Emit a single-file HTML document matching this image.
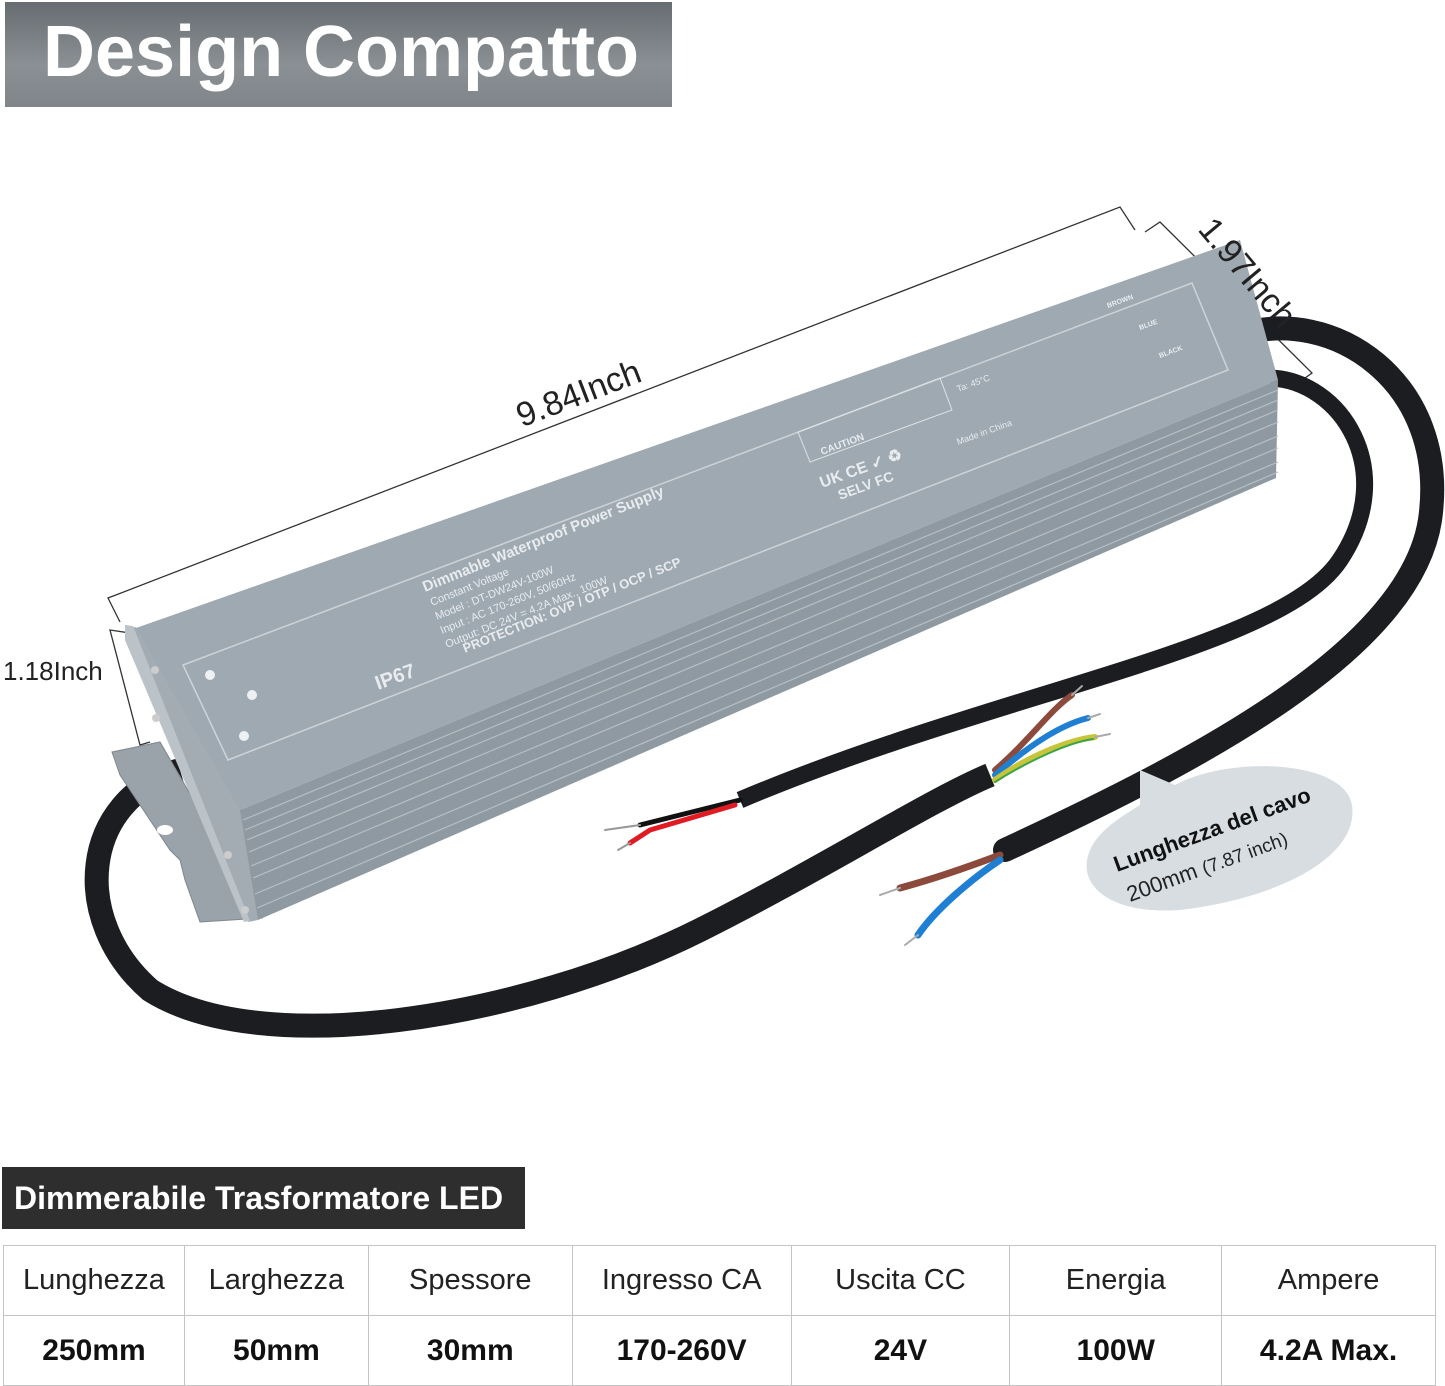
<!DOCTYPE html>
<html><head><meta charset="utf-8"><style>
html,body{margin:0;padding:0;background:#fff;width:1445px;height:1385px;overflow:hidden;font-family:"Liberation Sans",Arial,sans-serif;}
.title{position:absolute;left:5px;top:2px;width:667px;height:105px;background:linear-gradient(#676c71,#8b9095 60%,#80858a);color:#fff;font-weight:bold;font-size:72px;line-height:100px;box-sizing:border-box;padding-left:38px;white-space:nowrap}
.dark{position:absolute;left:2px;top:1167px;width:523px;height:62px;background:#2e2e2e;color:#fff;font-weight:bold;font-size:32px;line-height:62px;padding-left:12px;box-sizing:border-box;white-space:nowrap}
table{position:absolute;left:3px;top:1245px;width:1433px;border-collapse:collapse}
td{border:1px solid #c4c4c4;text-align:center;font-size:29px;color:#222;height:69px;padding:0}
tr.v td{font-weight:bold;color:#111;font-size:30px}
svg{position:absolute;left:0;top:0}
</style></head><body>
<div class="title">Design Compatto</div>
<svg width="1445" height="1160" viewBox="0 0 1445 1160" xmlns="http://www.w3.org/2000/svg" font-family="Liberation Sans, Arial, sans-serif">
<!-- dimension lines -->
<g stroke="#333" stroke-width="1.3" fill="none">
<polyline points="120,622 108,598 1120,207 1135,230"/>
<polyline points="1145,232 1160,222 1312,373 1298,383"/>
<polyline points="130,633 110,630 140,745 150,742"/>
</g>
<text x="578" y="405" font-size="34" fill="#222" text-anchor="middle" transform="rotate(-21 578 392)">9.84Inch</text>
<text x="3" y="680" font-size="26" fill="#222">1.18Inch</text>

<!-- outer cable right side -->
<path d="M1240,335 C1330,305 1450,380 1430,520 C1410,650 1200,760 1005,850" stroke="#1b1d20" stroke-width="24" fill="none" stroke-linecap="round"/>
<!-- inner output cable -->
<path d="M1270,378 C1340,380 1400,470 1340,560 C1280,650 1000,690 740,800" stroke="#1b1d20" stroke-width="17" fill="none"/>
<!-- main loop cable -->
<path d="M180,770 C80,800 70,920 150,990 C260,1060 520,1020 700,930 C820,870 930,800 990,775" stroke="#1b1d20" stroke-width="24" fill="none"/>

<!-- flange -->
<polygon points="112,752 160,742 262,918 200,922 185,880 180,860 170,850 120,775" fill="#9aa3aa" stroke="#7f878d"/>
<ellipse cx="165" cy="830" rx="8" ry="5" fill="#fff"/>
<!-- end region -->
<polygon points="125,625 138,628 243,810 258,920 248,922 125,640" fill="#a3acb3"/>
<polygon points="125,625 133,626 250,921 244,922 125,640" fill="#bcc3c8"/>
<!-- ribbed side -->
<polygon points="240,810 1278,380 1276,478 258,920" fill="#8f99a1"/>
<g stroke="#b6bec4" stroke-width="1.2">
<line x1="243" y1="820" x2="1278" y2="390"/><line x1="245" y1="830" x2="1278" y2="400"/>
<line x1="247" y1="840" x2="1278" y2="410"/><line x1="249" y1="852" x2="1278" y2="422"/>
<line x1="251" y1="866" x2="1278" y2="436"/><line x1="253" y1="878" x2="1278" y2="448"/>
<line x1="255" y1="894" x2="1278" y2="462"/><line x1="257" y1="908" x2="1278" y2="472"/>
</g>
<!-- label face -->
<polygon points="136,628 1240,240 1278,380 240,810" fill="#9fa9b1"/>
<polygon points="183,665 1192,283 1228,370 228,760" fill="none" stroke="#cdd3d8" stroke-width="1.5"/>
<circle cx="155" cy="670" r="4" fill="#ccc"/><circle cx="156" cy="718" r="4" fill="#ccc"/>
<circle cx="228" cy="855" r="4" fill="#ccc"/><circle cx="245" cy="910" r="4" fill="#ccc"/>
<g fill="#eef1f3">
<circle cx="210" cy="675" r="5"/><circle cx="252" cy="695" r="5"/><circle cx="244" cy="736" r="5"/>
</g>
<g fill="#e8ecef" font-weight="bold">
<text x="378" y="690" font-size="20" transform="rotate(-20 378 690)">IP67</text>
<text x="425" y="592" font-size="15" transform="rotate(-22 425 592)">Dimmable Waterproof Power Supply</text>
<text x="432" y="606" font-size="11" font-weight="normal" transform="rotate(-22 432 606)">Constant Voltage</text>
<text x="437" y="620" font-size="11" font-weight="normal" transform="rotate(-22 437 620)">Model  : DT-DW24V-100W</text>
<text x="442" y="634" font-size="11" font-weight="normal" transform="rotate(-22 442 634)">Input  : AC 170-260V, 50/60Hz</text>
<text x="447" y="648" font-size="11" font-weight="normal" transform="rotate(-22 447 648)">Output: DC 24V = 4.2A Max., 100W</text>
<text x="465" y="653" font-size="13" transform="rotate(-22 465 653)">PROTECTION: OVP / OTP / OCP / SCP</text>
<text x="822" y="455" font-size="10" transform="rotate(-20 822 455)">CAUTION</text>
<text x="822" y="488" font-size="16" transform="rotate(-20 822 488)">UK CE ✓ ♻</text>
<text x="840" y="500" font-size="14" transform="rotate(-20 840 500)">SELV FC</text>
<text x="958" y="392" font-size="9" font-weight="normal" transform="rotate(-20 958 392)">Ta: 45°C</text>
<text x="958" y="445" font-size="9" font-weight="normal" transform="rotate(-20 958 445)">Made in China</text>
<text x="1108" y="308" font-size="7" transform="rotate(-20 1108 308)">BROWN</text>
<text x="1140" y="330" font-size="7" transform="rotate(-20 1140 330)">BLUE</text>
<text x="1160" y="358" font-size="7" transform="rotate(-20 1160 358)">BLACK</text>
</g>
<polygon points="798,432 940,378 952,410 810,462" fill="none" stroke="#dde2e5" stroke-width="1"/>

<text x="1248" y="284" font-size="34" fill="#222" text-anchor="middle" transform="rotate(50 1248 272)">1.97Inch</text>

<!-- wires -->
<g fill="none" stroke-linecap="round">
<path d="M740,800 L640,825" stroke="#111" stroke-width="5"/>
<path d="M605,830 L640,825" stroke="#999" stroke-width="2"/>
<path d="M735,805 L650,830 L630,843" stroke="#e01b24" stroke-width="5"/>
<path d="M630,843 L618,850" stroke="#999" stroke-width="2"/>
<path d="M995,770 C1030,740 1050,710 1072,695" stroke="#8b4a3c" stroke-width="6"/>
<path d="M1072,695 L1082,686" stroke="#aaa" stroke-width="2"/>
<path d="M995,775 C1030,745 1060,725 1088,718" stroke="#1f7fd3" stroke-width="6"/>
<path d="M1088,718 L1100,714" stroke="#aaa" stroke-width="2"/>
<path d="M995,780 C1030,755 1070,740 1095,737" stroke="#c8c43a" stroke-width="6"/>
<path d="M995,782 C1030,760 1070,742 1093,739" stroke="#3aa44a" stroke-width="2"/>
<path d="M1095,737 L1110,734" stroke="#aaa" stroke-width="2"/>
<path d="M1000,855 C960,870 930,880 900,888" stroke="#8b4a3c" stroke-width="7"/>
<path d="M900,888 L880,895" stroke="#aaa" stroke-width="2"/>
<path d="M1000,860 C970,880 935,910 918,935" stroke="#1f7fd3" stroke-width="7"/>
<path d="M918,935 L905,945" stroke="#aaa" stroke-width="2"/>
</g>
<!-- callout -->
<path d="M1140,770 L1175,785 C1230,755 1345,760 1352,805 C1360,860 1270,900 1180,910 C1110,915 1075,885 1090,850 C1100,828 1125,815 1140,805 Z" fill="#d7dde1"/>
<text x="1117" y="872" font-size="22" font-weight="bold" fill="#111" transform="rotate(-20 1117 872)">Lunghezza del cavo</text>
<text x="1130" y="902" font-size="22" fill="#222" transform="rotate(-20 1130 902)">200mm <tspan font-size="19">(7.87 inch)</tspan></text>
</svg>
<div class="dark">Dimmerabile Trasformatore LED</div>
<table>
<colgroup><col style="width:181px"><col style="width:184px"><col style="width:204px"><col style="width:219px"><col style="width:219px"><col style="width:212px"><col style="width:214px"></colgroup>
<tr><td>Lunghezza</td><td>Larghezza</td><td>Spessore</td><td>Ingresso CA</td><td>Uscita CC</td><td>Energia</td><td>Ampere</td></tr>
<tr class="v"><td>250mm</td><td>50mm</td><td>30mm</td><td>170-260V</td><td>24V</td><td>100W</td><td>4.2A Max.</td></tr>
</table>
</body></html>
